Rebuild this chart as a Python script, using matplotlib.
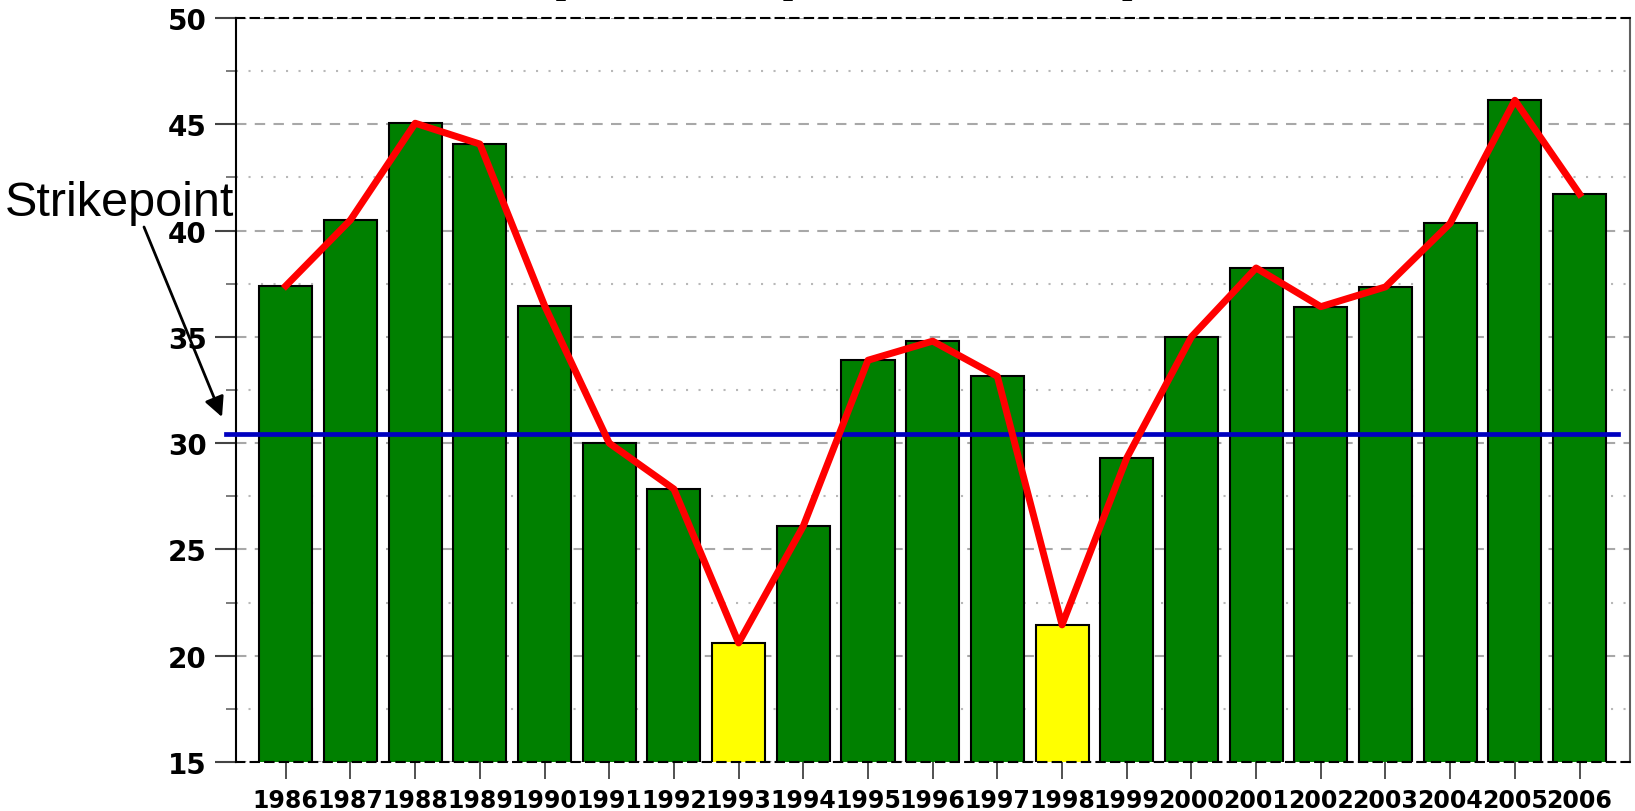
import numpy as np
import matplotlib
matplotlib.use("Agg")
import matplotlib.pyplot as plt
from matplotlib.ticker import MultipleLocator

years = [1986, 1987, 1988, 1989, 1990, 1991, 1992, 1993, 1994, 1995, 1996,
         1997, 1998, 1999, 2000, 2001, 2002, 2003, 2004, 2005, 2006]
values = [37.4, 40.5, 45.05, 44.07, 36.47, 30.0, 27.84, 20.6, 26.1, 33.9, 34.8,
          33.14, 21.45, 29.3, 35.0, 38.24, 36.42, 37.35, 40.34, 46.13, 41.72]
highlight_years = [1993, 1998]
strikepoint = 30.45
yticks = [15, 20, 25, 30, 35, 40, 45, 50]
title = "(Cents per Pound)"

plt.rcParams["font.family"] = ["Liberation Sans", "DejaVu Sans"]

W, H = 1635, 812
fig = plt.figure(figsize=(W / 100, H / 100), dpi=100)
ax = fig.add_axes([236 / W, 1 - 763 / H, (1630 - 236) / W, (763 - 19) / H])

x = np.arange(len(years))
colors = ["#FFFF00" if y in highlight_years else "#008000" for y in years]
ax.bar(x, values, width=0.82, color=colors, edgecolor="black", linewidth=1.5, zorder=2)
ax.plot(x, values, color="#FF0000", lw=5, zorder=4)
ax.plot([-0.92, 20.59], [strikepoint, strikepoint], color="#0000C0", lw=3.4,
        zorder=3, clip_on=False)

ax.tick_params(axis="y", which="major", direction="out", length=15, width=1.5, pad=6,
               color="#444444", labelsize=20)
ax.tick_params(axis="y", which="minor", direction="out", length=7, width=1.2, color="#666666")
ax.tick_params(axis="x", direction="out", length=12, width=1.2, pad=7, color="#333333",
               labelsize=17)

ax.set_xlim(-0.77, 20.78)
ax.set_ylim(15, 50)
ax.set_yticks(yticks)
ax.yaxis.set_minor_locator(MultipleLocator(2.5))
ax.set_xticks(x)
ax.set_yticklabels([str(v) for v in yticks], fontsize=20, fontweight="bold",
                   family="DejaVu Sans")
ax.set_xticklabels([str(y) for y in years], fontweight="bold", fontsize=17,
                   family="DejaVu Sans")

ax.grid(axis="y", which="major", color="#a8a8a8", linestyle=(0, (5, 4)), lw=1.5, zorder=0)
ax.grid(axis="y", which="minor", color="#b8b8b8", linestyle=(0, (1, 5)), lw=1.5, zorder=0)
ax.set_axisbelow(True)

ax.spines["left"].set_color("black")
ax.spines["left"].set_linewidth(1.5)
ax.spines["right"].set_color("#606060")
ax.spines["right"].set_linewidth(1.5)
for s in ["top", "bottom"]:
    ax.spines[s].set_color("black")
    ax.spines[s].set_linewidth(1.5)
    ax.spines[s].set_linestyle((0, (4, 3)))

# title mostly clipped off the top of the picture
fig.text(844 / W, 1.016, title, ha="center", va="baseline", fontsize=50, fontweight="bold")

fig.text(5 / W, 1 - 216 / H, "Strikepoint", ha="left", va="baseline", fontsize=35)
ax.annotate("", xy=(222 / W, 1 - 418 / H), xycoords="figure fraction",
            xytext=(144 / W, 1 - 228 / H), textcoords="figure fraction",
            arrowprops=dict(arrowstyle="-|>", color="black", lw=2, mutation_scale=30,
                            shrinkA=0, shrinkB=0),
            annotation_clip=False)

fig.savefig("out.png", dpi=100)
